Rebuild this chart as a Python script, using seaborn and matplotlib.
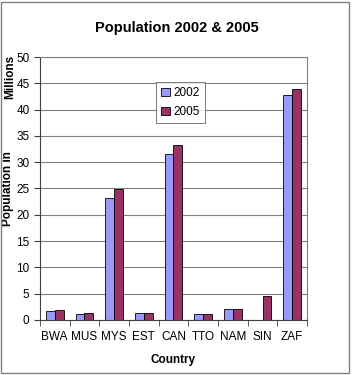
import matplotlib
matplotlib.use('Agg')

import matplotlib.pyplot as plt
import numpy as np
import pandas as pd
import seaborn as sns
from matplotlib.patches import Rectangle

# Data (millions)
countries = ["BWA", "MUS", "MYS", "EST", "CAN", "TTO", "NAM", "SIN", "ZAF"]
pop_2002 = [1.6, 1.2, 23.2, 1.4, 31.5, 1.2, 2.0, np.nan, 42.8]
pop_2005 = [1.8, 1.25, 24.8, 1.3, 33.3, 1.05, 2.0, 4.5, 43.9]
years = ["2002", "2005"]

df = pd.DataFrame({
    "Country": countries * 2,
    "Year": [years[0]] * len(countries) + [years[1]] * len(countries),
    "Population": pop_2002 + pop_2005,
})

plt.rcParams['font.family'] = ['Liberation Sans', 'DejaVu Sans']

fig = plt.figure(figsize=(3.53, 3.75), dpi=100)
ax = fig.add_axes([0.113, 0.147, 0.757, 0.701])

palette = {"2002": "#9999FF", "2005": "#993366"}
sns.barplot(data=df, x="Country", y="Population", hue="Year", palette=palette,
            width=0.6, gap=0, edgecolor="black", linewidth=0.6,
            saturation=1, ax=ax)

ax.set_ylim(0, 50)
ax.set_xlim(-0.5, len(countries) - 0.5)
ax.set_yticks(range(0, 51, 5))
ax.yaxis.grid(True, color="#808080", linewidth=0.8)
ax.set_axisbelow(True)

# category separators as ticks on the x axis
ax.set_xticks(np.arange(-0.5, len(countries), 1.0), minor=True)
ax.tick_params(axis="x", which="major", length=0, labelsize=8.5, pad=8)
ax.tick_params(axis="x", which="minor", length=4, color="#404040")
ax.tick_params(axis="y", length=4, labelsize=8.5, color="#404040")

for side in ["top", "right"]:
    ax.spines[side].set_color("#808080")
for side in ["left", "bottom"]:
    ax.spines[side].set_color("#404040")

ax.set_xlabel("Country", fontsize=8.5, fontweight="bold", labelpad=8)
ax.set_ylabel("")
ax.text(-0.12, 0.50, "Population in", transform=ax.transAxes, rotation=90,
        fontsize=8.5, fontweight="bold", ha="center", va="center")
ax.text(-0.112, 0.925, "Millions", transform=ax.transAxes, rotation=90,
        fontsize=8.5, fontweight="bold", ha="center", va="center")

fig.suptitle("Population 2002 & 2005", fontsize=10.5, fontweight="bold", y=0.945)

leg = ax.legend(loc="upper left", bbox_to_anchor=(0.435, 0.905), fontsize=8.5,
                frameon=True, fancybox=False, edgecolor="#404040",
                handlelength=0.7, handleheight=0.7, handletextpad=0.3,
                borderpad=0.45, labelspacing=0.55, borderaxespad=0)
leg.get_frame().set_linewidth(0.6)

# outer chart border
fig.patches.append(Rectangle((0.003, 0.006), 0.985, 0.988, transform=fig.transFigure,
                             fill=False, edgecolor="#808080", linewidth=1))

plt.savefig("out.png", dpi=100)
